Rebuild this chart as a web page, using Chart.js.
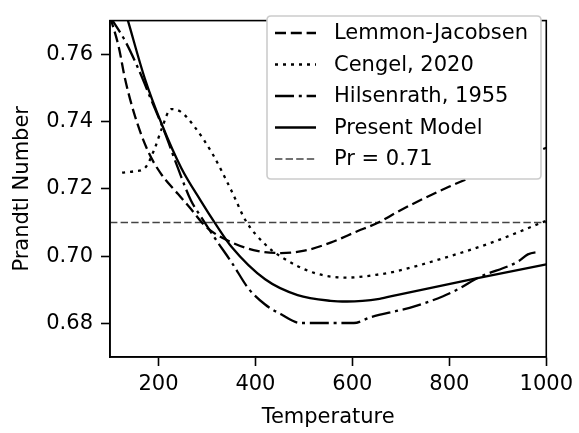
<!DOCTYPE html>
<html><head><meta charset="utf-8">
<script src="https://cdn.jsdelivr.net/npm/chart.js@4.4.0/dist/chart.umd.min.js"></script>
<style>html,body{margin:0;padding:0;background:#fff}#wrap{width:579px;height:433px}</style>
</head><body><div id="wrap"><canvas id="c" width="579" height="433"></canvas></div>
<script>
// ---- data ----
const lemmonT  = [100, 118, 131, 152, 179, 206, 240, 264, 298, 352, 406, 453, 501, 555, 609, 657, 691, 799, 900, 1000];
const lemmonPr = [0.7712, 0.7622, 0.7527, 0.7414, 0.731, 0.7243, 0.7185, 0.7145, 0.7087, 0.704, 0.7015, 0.7009, 0.7016, 0.704, 0.7073, 0.7102, 0.713, 0.7206, 0.7265, 0.7322];

const cengelT  = [125, 150, 172, 192, 206, 226, 247, 274, 311, 352, 380, 420, 453, 521, 589, 657, 691, 786, 887, 1000];
const cengelPr = [0.7248, 0.7252, 0.7262, 0.7319, 0.7376, 0.7437, 0.7428, 0.7385, 0.7305, 0.719, 0.7105, 0.7035, 0.6998, 0.695, 0.6936, 0.6946, 0.6955, 0.6993, 0.704, 0.7105];

const hilsT  = [100, 131, 159, 186, 213, 240, 267, 284, 318, 352, 386, 420, 453, 494, 603, 637, 691, 718, 786, 820, 860, 942, 962, 986];
const hilsPr = [0.7712, 0.764, 0.7555, 0.7461, 0.7367, 0.7262, 0.7165, 0.7125, 0.705, 0.6979, 0.6903, 0.6856, 0.6827, 0.6801, 0.6801, 0.6818, 0.6837, 0.6846, 0.688, 0.6903, 0.6936, 0.6984, 0.7005, 0.7013];

const modelT  = [137, 172, 206, 247, 287, 318, 351, 420, 487, 555, 589, 656, 691, 853, 1000];
const modelPr = [0.770, 0.7527, 0.7395, 0.7262, 0.7165, 0.7095, 0.7027, 0.6931, 0.6884, 0.6867, 0.6865, 0.6873, 0.6884, 0.6933, 0.6975];

const refT  = [100, 1000];
const refPr = [0.71, 0.71];

const seriesLabels = ['Lemmon-Jacobsen', 'Cengel, 2020', 'Hilsenrath, 1955', 'Present Model', 'Pr = 0.71'];
const xTicks = [200, 400, 600, 800, 1000];
const yTicks = [0.68, 0.70, 0.72, 0.74, 0.76];
const xLabel = 'Temperature';
const yLabel = 'Prandtl Number';

// ---- build ----
const pts = (xs, ys) => xs.map((x, i) => ({x: x, y: ys[i]}));
const FONT = 'DejaVu Sans';
const FS = 21;
const base = {pointRadius: 0, fill: false, borderColor: '#000', cubicInterpolationMode: 'monotone', borderCapStyle: 'butt'};

const datasets = [
  Object.assign({}, base, {label: seriesLabels[0], data: pts(lemmonT, lemmonPr), borderWidth: 2.3, borderDash: [11, 4.8]}),
  Object.assign({}, base, {label: seriesLabels[1], data: pts(cengelT, cengelPr), borderWidth: 2.3, borderDash: [3, 5]}),
  Object.assign({}, base, {label: seriesLabels[2], data: pts(hilsT, hilsPr), borderWidth: 2.3, borderDash: [19, 4.8, 3, 4.8]}),
  Object.assign({}, base, {label: seriesLabels[3], data: pts(modelT, modelPr), borderWidth: 2.3, borderDash: []}),
  Object.assign({}, base, {label: seriesLabels[4], data: pts(refT, refPr), borderWidth: 1.6, borderColor: '#444', borderDash: [7.4, 3.2], cubicInterpolationMode: 'default', tension: 0})
];

const framePlugin = {
  id: 'frameLegend',
  afterDatasetsDraw(chart) {
    const ctx = chart.ctx, a = chart.chartArea;
    ctx.save();
    ctx.strokeStyle = '#000'; ctx.lineWidth = 1.6; ctx.setLineDash([]);
    ctx.strokeRect(a.left, a.top, a.right - a.left, a.bottom - a.top);
    // legend
    const L = 267, T = 16, R = 541, B = 179, r = 4;
    ctx.beginPath();
    ctx.moveTo(L + r, T); ctx.lineTo(R - r, T); ctx.quadraticCurveTo(R, T, R, T + r);
    ctx.lineTo(R, B - r); ctx.quadraticCurveTo(R, B, R - r, B);
    ctx.lineTo(L + r, B); ctx.quadraticCurveTo(L, B, L, B - r);
    ctx.lineTo(L, T + r); ctx.quadraticCurveTo(L, T, L + r, T); ctx.closePath();
    ctx.fillStyle = '#ffffff'; ctx.fill();
    ctx.strokeStyle = '#cccccc'; ctx.lineWidth = 1.6; ctx.stroke();
    ctx.font = FS + 'px "' + FONT + '"';
    ctx.textBaseline = 'middle'; ctx.textAlign = 'left';
    chart.data.datasets.forEach((ds, i) => {
      const y = 33 + i * 31.5;
      ctx.beginPath();
      ctx.strokeStyle = ds.borderColor; ctx.lineWidth = ds.borderWidth; ctx.lineCap = 'butt';
      ctx.setLineDash(ds.borderDash || []);
      ctx.moveTo(275, y); ctx.lineTo(316, y); ctx.stroke();
      ctx.setLineDash([]);
      ctx.fillStyle = '#000';
      ctx.fillText(ds.label, 334, y + 1);
    });
    ctx.restore();
  }
};

new Chart(document.getElementById('c'), {
  type: 'line',
  data: {datasets: datasets},
  options: {
    responsive: false, animation: false, devicePixelRatio: 1,
    layout: {padding: {top: 5, right: 27, left: 0, bottom: 0}},
    plugins: {legend: {display: false}, tooltip: {enabled: false}},
    scales: {
      x: {
        type: 'linear', min: 100, max: 1000,
        afterFit: s => { s.height = 76; },
        afterBuildTicks: s => { s.ticks = xTicks.map(v => ({value: v})); },
        grid: {drawOnChartArea: false, drawTicks: true, tickLength: 9, tickWidth: 1.6, tickColor: '#000'},
        border: {display: true, color: '#000', width: 1.6},
        ticks: {color: '#000', font: {family: FONT, size: FS}, padding: 6, maxRotation: 0, autoSkip: false, callback: v => String(v)},
        title: {display: true, text: xLabel, color: '#000', font: {family: FONT, size: FS}, padding: {top: 0, bottom: 3}}
      },
      y: {
        type: 'linear', min: 0.67, max: 0.77,
        afterFit: s => { s.width = 110; },
        afterBuildTicks: s => { s.ticks = yTicks.map(v => ({value: v})); },
        grid: {drawOnChartArea: false, drawTicks: true, tickLength: 9, tickWidth: 1.6, tickColor: '#000'},
        border: {display: true, color: '#000', width: 1.6},
        ticks: {color: '#000', font: {family: FONT, size: FS}, padding: 8, autoSkip: false, callback: v => Number(v).toFixed(2)},
        title: {display: true, text: yLabel, color: '#000', font: {family: FONT, size: FS}, padding: {top: 10, bottom: 0}}
      }
    }
  },
  plugins: [framePlugin]
});
</script>
</body></html>
